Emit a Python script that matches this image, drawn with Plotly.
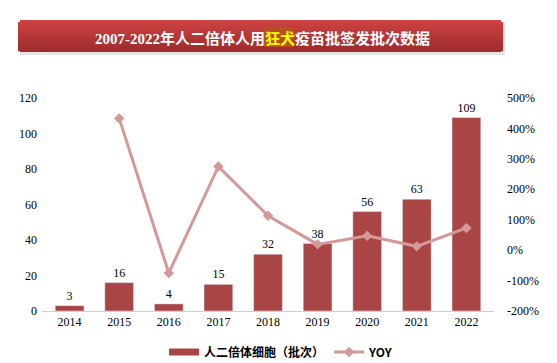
import plotly.graph_objects as go

years = ["2014", "2015", "2016", "2017", "2018", "2019", "2020", "2021", "2022"]
batches = [3, 16, 4, 15, 32, 38, 56, 63, 109]
yoy = [None, 4.33, -0.75, 2.75, 1.13, 0.19, 0.47, 0.125, 0.73]
yoy_ticks = [-2, -1, 0, 1, 2, 3, 4, 5]
yoy_ticklabels = ["-200%", "-100%", "0%", "100%", "200%", "300%", "400%", "500%"]

bar_name = "人二倍体细胞（批次）"
line_name = "YOY"
title_a = "2007-2022"
title_a2 = "年人二倍体人用"
title_b = "狂犬"
title_c = "疫苗批签发批次数据"

SERIF = "Liberation Serif, Times New Roman, serif"
CJK = "Noto Sans CJK SC, sans-serif"
BAR_C = "#a94545"
LINE_C = "#d49898"

fig = go.Figure()
fig.add_trace(go.Bar(
    x=years, y=batches, name=bar_name, showlegend=False,
    marker=dict(color=BAR_C),
    text=[str(v) for v in batches], textposition="outside",
    textfont=dict(family=SERIF, size=12, color="#000"),
    cliponaxis=False,
))
# legend proxy for bars (wide flat swatch)
fig.add_trace(go.Scatter(
    x=[None], y=[None], mode="lines", name="<b>" + bar_name + "</b>",
    line=dict(color=BAR_C, width=7),
))
fig.add_trace(go.Scatter(
    x=years, y=yoy, name="<b>" + line_name + "</b>", yaxis="y2", mode="lines+markers",
    line=dict(color=LINE_C, width=3),
    marker=dict(symbol="diamond", size=8, color=LINE_C),
))

L, R, T, B = 42, 63, 98, 52
W, H = 557, 363
pw, ph = W - L - R, H - T - B

def px_x(x):
    return (x - L) / pw

def px_y(y):
    return (H - B - y) / ph

shapes = []
# shadow
shapes.append(dict(type="rect", xref="paper", yref="paper",
                   x0=px_x(20), x1=px_x(505), y0=px_y(55), y1=px_y(23),
                   fillcolor="rgba(0,0,0,0.10)", line=dict(width=0), layer="below"))
top, bot = 20, 52
n = 16
c_top = (206, 66, 66)
c_bot = (158, 44, 44)
for i in range(n):
    t = i / (n - 1)
    col = tuple(int(c_top[k] + (c_bot[k] - c_top[k]) * t) for k in range(3))
    y0 = top + (bot - top) * i / n
    y1 = min(bot, top + (bot - top) * (i + 1) / n + 1.2)
    inset = 2 if (i == 0 or i == n - 1) else 0
    shapes.append(dict(type="rect", xref="paper", yref="paper",
                       x0=px_x(18 + inset), x1=px_x(503 - inset),
                       y0=px_y(y1), y1=px_y(y0),
                       fillcolor="rgb(%d,%d,%d)" % col, line=dict(width=0), layer="below"))
# highlight behind 狂犬
shapes.append(dict(type="rect", xref="paper", yref="paper",
                   x0=px_x(264), x1=px_x(294), y0=px_y(47), y1=px_y(27),
                   fillcolor="#b8501e", line=dict(width=0), layer="below"))

fig.update_layout(
    width=W, height=H,
    margin=dict(l=L, r=R, t=T, b=B, autoexpand=False),
    paper_bgcolor="white", plot_bgcolor="white",
    bargap=0.42,
    showlegend=True,
    legend=dict(orientation="h", x=0.53, xanchor="center", y=px_y(352), yanchor="middle",
                font=dict(family=CJK, size=12, color="#000"),
                traceorder="normal"),
    xaxis=dict(showgrid=False, showline=True, linecolor="#d0d0d0", linewidth=1,
               ticks="", tickfont=dict(family=SERIF, size=12, color="#000")),
    yaxis=dict(range=[0, 120], dtick=20, showgrid=False, zeroline=False,
               tickfont=dict(family=SERIF, size=12, color="#000"), ticklabelstandoff=4),
    yaxis2=dict(range=[-2, 5], overlaying="y", side="right", showgrid=False,
                zeroline=False, tickvals=yoy_ticks, ticktext=yoy_ticklabels,
                tickfont=dict(family=SERIF, size=12, color="#000"), ticklabelstandoff=12),
    shapes=shapes,
    annotations=[dict(
        xref="paper", yref="paper", x=px_x(262), y=px_y(37), xanchor="center", yanchor="middle",
        showarrow=False,
        text="<b><span style='font-family:Liberation Serif'>" + title_a + "</span>" + title_a2 +
             "<span style='color:#ffff00'>" + title_b + "</span>" + title_c + "</b>",
        font=dict(family=CJK, size=15, color="white"),
    )],
)
fig.write_html("out.html",
               config={"displayModeBar": False},
               post_script="document.body.style.margin='0';document.body.style.padding='0';"
                           "document.documentElement.style.overflow='hidden';")
